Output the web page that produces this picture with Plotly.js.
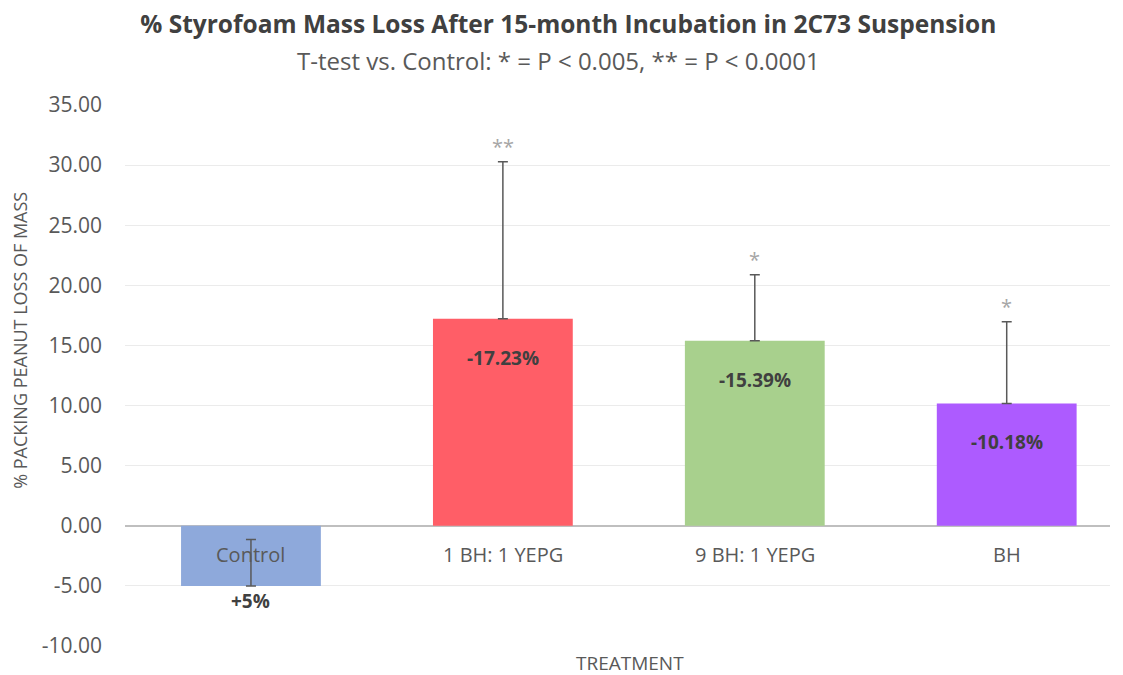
<!DOCTYPE html>
<html>
<head>
<meta charset="utf-8">
<script src="https://cdn.plot.ly/plotly-3.0.1.min.js"></script>
<style>html,body{margin:0;padding:0;background:#fff;}#chart{width:1123px;height:675px;}</style>
</head>
<body>
<div id="chart"></div>
<script>
const categories = ['Control', '1 BH: 1 YEPG', '9 BH: 1 YEPG', 'BH'];
const values = [-5.0, 17.23, 15.39, 10.18];
const errorPlus = [3.85, 13.05, 5.48, 6.8];
const barLabels = ['+5%', '-17.23%', '-15.39%', '-10.18%'];
const significance = ['', '**', '*', '*'];
const barColors = ['#8EA9DB', '#FF5E67', '#A8D08D', '#AD5BFF'];
const yTickVals = [-10, -5, 0, 5, 10, 15, 20, 25, 30, 35];

const FONT = 'Open Sans, Noto Sans, sans-serif';
const xIdx = categories.map((c, i) => i);

const trace = {
  type: 'bar',
  x: xIdx,
  y: values,
  marker: {color: barColors},
  width: 0.555,
  error_y: {
    type: 'data', symmetric: false,
    array: errorPlus,
    arrayminus: values.map(() => 0),
    color: '#595959', thickness: 1.5, width: 5
  },
  hoverinfo: 'none'
};

const annotations = [];
// category labels near zero line
categories.forEach((c, i) => {
  annotations.push({x: i, y: 0, xref: 'x', yref: 'y', text: c, showarrow: false,
    yshift: -29, font: {family: FONT, size: 20, color: '#595959'}});
});
// bar value labels
values.forEach((v, i) => {
  annotations.push({x: i, y: v, xref: 'x', yref: 'y', text: '<b>' + barLabels[i] + '</b>', showarrow: false,
    yshift: v < 0 ? -15 : -39, font: {family: FONT, size: 19, color: '#404040'}});
});
// significance stars
values.forEach((v, i) => {
  if (!significance[i]) return;
  annotations.push({x: i, y: v + errorPlus[i], xref: 'x', yref: 'y', text: significance[i], showarrow: false,
    yshift: 15, font: {family: FONT, size: 20, color: '#A6A6A6'}});
});
// subtitle
annotations.push({x: 0.4401, xref: 'paper', y: 1.083, yref: 'paper', xanchor: 'center', yanchor: 'middle',
  text: 'T-test vs. Control: * = P < 0.005, ** = P < 0.0001', showarrow: false,
  font: {family: FONT, size: 24, color: '#595959'}});
// y axis title
annotations.push({x: -0.1066, xref: 'paper', y: 0.566, yref: 'paper', xanchor: 'center', yanchor: 'middle',
  text: '% PACKING PEANUT LOSS OF MASS', textangle: -90, showarrow: false,
  font: {family: FONT, size: 18, color: '#595959'}});
// x axis title
annotations.push({x: 0.513, xref: 'paper', y: -0.031, yref: 'paper', xanchor: 'center', yanchor: 'middle',
  text: 'TREATMENT', showarrow: false,
  font: {family: FONT, size: 19, color: '#595959'}});

const layout = {
  width: 1123, height: 675,
  margin: {l: 125, r: 13, t: 105, b: 29, pad: 0},
  paper_bgcolor: '#ffffff', plot_bgcolor: '#ffffff',
  showlegend: false,
  title: {text: '<b>% Styrofoam Mass Loss After 15-month Incubation in 2C73 Suspension</b>',
    x: 0.506, xanchor: 'center', y: 0.964, yanchor: 'middle', yref: 'container',
    font: {family: FONT, size: 24.5, color: '#404040'}},
  xaxis: {range: [-0.5, 3.41], showticklabels: false, showgrid: false, zeroline: false,
    showline: false, fixedrange: true},
  yaxis: {range: [-10, 35], tickvals: yTickVals, ticktext: yTickVals.map(v => v.toFixed(2)),
    showgrid: true, gridcolor: '#EBEBEB', gridwidth: 1,
    zeroline: true, zerolinecolor: '#BFBFBF', zerolinewidth: 2,
    showline: false, ticks: '', ticklabelstandoff: 22,
    tickfont: {family: FONT, size: 21, color: '#595959'}, fixedrange: true},
  annotations: annotations
};

Plotly.newPlot('chart', [trace], layout, {displayModeBar: false, staticPlot: true});
</script>
</body>
</html>
